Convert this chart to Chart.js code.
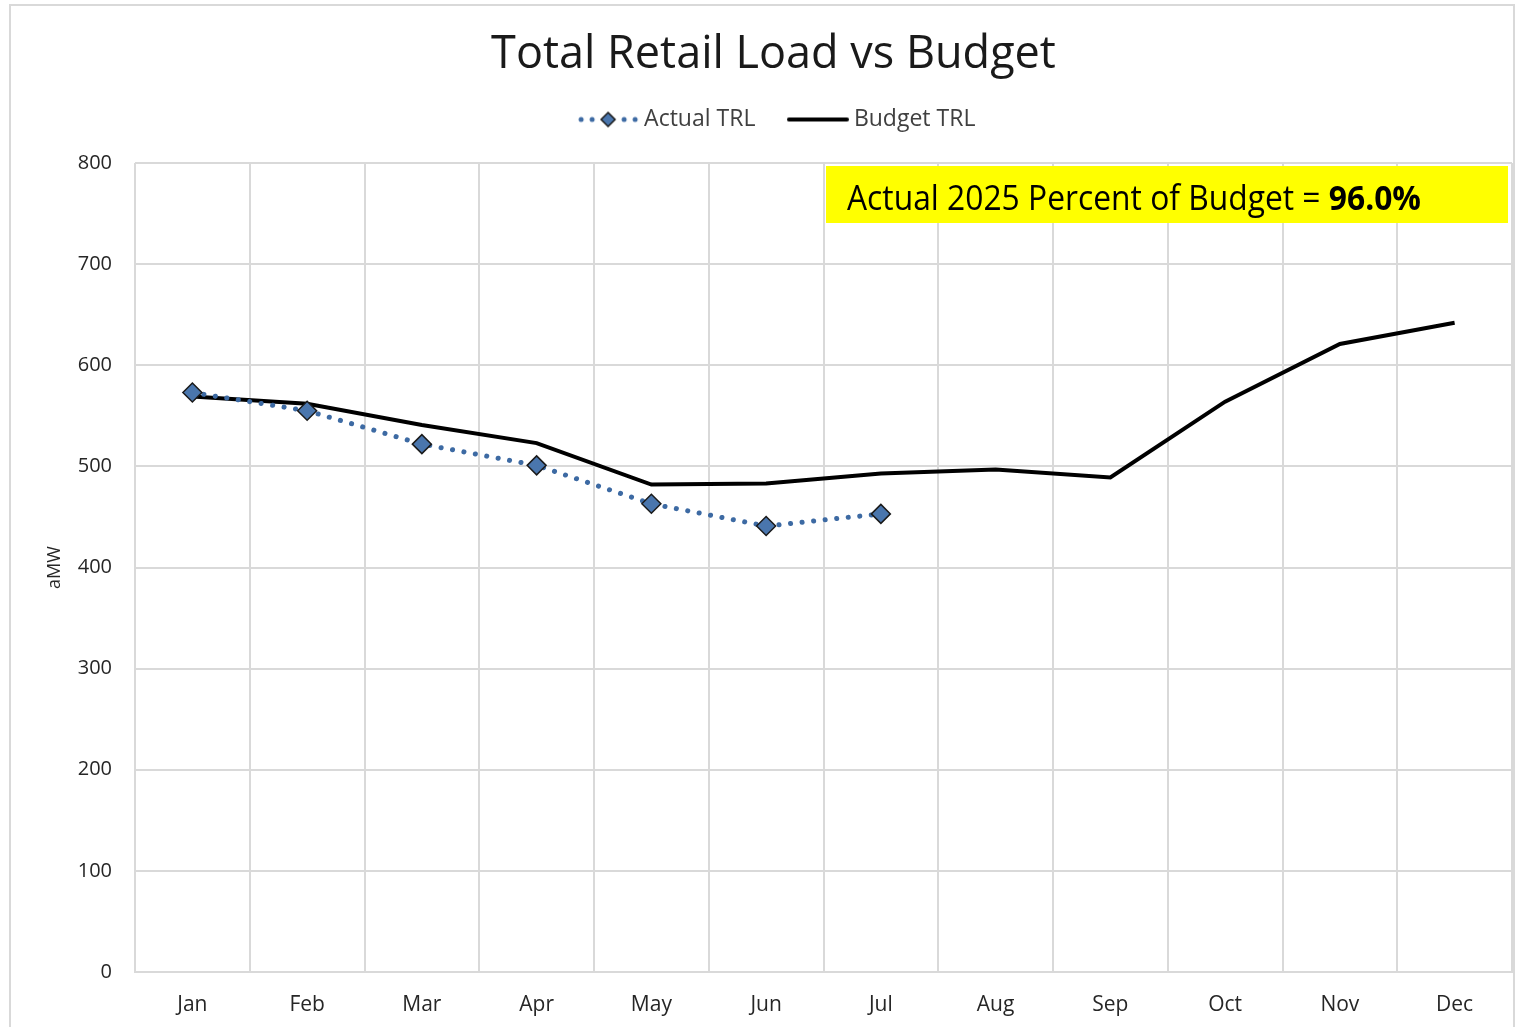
<!DOCTYPE html>
<html>
<head>
<meta charset="utf-8">
<script src="https://cdn.jsdelivr.net/npm/chart.js@4.4.1/dist/chart.umd.min.js"></script>
<style>
  html, body { margin: 0; padding: 0; background: #ffffff; }
  #wrap { width: 1516px; height: 1027px; position: relative; }
</style>
</head>
<body>
<div id="wrap"><canvas id="c" width="1516" height="1027"></canvas></div>
<script>
const categories = ['Jan','Feb','Mar','Apr','May','Jun','Jul','Aug','Sep','Oct','Nov','Dec'];
const actualTRL = [573, 555, 522, 501, 463, 441, 453, null, null, null, null, null];
const budgetTRL = [569, 562, 541, 523, 482, 483, 493, 497, 489, 564, 621, 642];
const yTicks = [0, 100, 200, 300, 400, 500, 600, 700, 800];
const chartTitle = 'Total Retail Load vs Budget';
const yAxisTitle = 'aMW';
const noteNormal = 'Actual 2025 Percent of Budget = ';
const noteBold = '96.0%';

const ACT_LINE = '#3d6aa3';
const ACT_FILL = '#4a76ad';

function legendImage(kind) {
  const c = document.createElement('canvas');
  c.width = 62; c.height = 22;
  const x = c.getContext('2d');
  x.lineCap = 'round';
  if (kind === 'actual') {
    x.fillStyle = ACT_LINE;
    [4, 15, 47, 58].forEach(px => { x.beginPath(); x.arc(px, 11, 2.5, 0, Math.PI*2); x.fill(); });
    x.beginPath();
    x.moveTo(31, 4); x.lineTo(38, 11); x.lineTo(31, 18); x.lineTo(24, 11); x.closePath();
    x.fillStyle = ACT_FILL; x.fill();
    x.lineWidth = 1.5; x.strokeStyle = '#1a1a1a'; x.stroke();
  } else {
    x.strokeStyle = '#000'; x.lineWidth = 4;
    x.beginPath(); x.moveTo(2, 11); x.lineTo(60, 11); x.stroke();
  }
  return c;
}
const legendImgs = [legendImage('actual'), legendImage('budget')];

const decorPlugin = {
  id: 'decor',
  afterInit(chart) {
    if (chart.legend && !chart.legend._wrapped) {
      const f = chart.legend.fit;
      chart.legend.fit = function () { f.call(this); this.height += 22; };
      chart.legend._wrapped = true;
    }
  },
  afterLayout(chart) {
    if (chart.legend) {
      chart.legend.left += 6;
      chart.legend.right += 6;
    }
  },
  beforeDraw(chart) {
    const ctx = chart.ctx;
    ctx.save();
    ctx.fillStyle = '#fff';
    ctx.fillRect(0, 0, chart.width, chart.height);
    ctx.strokeStyle = '#d9d9d9';
    ctx.lineWidth = 2;
    ctx.strokeRect(10, 5, 1504, 1040);
    ctx.restore();
  },
  afterDatasetsDraw(chart) {
    const ctx = chart.ctx;
    const a = chart.chartArea;
    const w = a.right - a.left;
    const bx = a.left + w * (691 / 1377);
    const bw = w * (682 / 1377);
    const by = a.top + 3;
    const bh = 57;
    ctx.save();
    ctx.fillStyle = '#ffff00';
    ctx.fillRect(bx, by, bw, bh);
    ctx.fillStyle = '#000';
    ctx.textBaseline = 'alphabetic';
    const f1 = '34px "Open Sans", sans-serif';
    const f2 = 'bold 34px "Open Sans", sans-serif';
    ctx.font = f1; const w1 = ctx.measureText(noteNormal).width;
    ctx.font = f2; const w2 = ctx.measureText(noteBold).width;
    const target = 574;
    const sx = target / (w1 + w2);
    ctx.translate(bx + 21, by + 44);
    ctx.scale(sx, 1);
    ctx.font = f1; ctx.fillText(noteNormal, 0, 0);
    ctx.font = f2; ctx.fillText(noteBold, w1, 0);
    ctx.restore();
  }
};

new Chart(document.getElementById('c'), {
  type: 'line',
  data: {
    labels: categories,
    datasets: [
      {
        label: 'Actual TRL',
        data: actualTRL,
        borderColor: ACT_LINE,
        backgroundColor: ACT_FILL,
        borderWidth: 5,
        borderDash: [0.1, 11.5],
        borderCapStyle: 'round',
        pointStyle: 'rectRot',
        pointRadius: 9.5,
        pointHoverRadius: 9.5,
        pointBackgroundColor: ACT_FILL,
        pointBorderColor: '#1a1a1a',
        pointBorderWidth: 1.5,
        tension: 0,
        spanGaps: false,
        order: 0
      },
      {
        label: 'Budget TRL',
        data: budgetTRL,
        borderColor: '#000000',
        backgroundColor: '#000000',
        borderWidth: 4,
        pointRadius: 0,
        pointHoverRadius: 0,
        tension: 0,
        order: 1
      }
    ]
  },
  options: {
    responsive: false,
    animation: false,
    devicePixelRatio: 1,
    layout: { autoPadding: false, padding: { left: 35, right: 4, top: 0, bottom: 0 } },
    plugins: {
      title: {
        display: true,
        text: chartTitle,
        color: '#1a1a1a',
        font: { family: '"Open Sans", sans-serif', size: 45, weight: 'normal', lineHeight: 1.2 },
        padding: { top: 28, bottom: -12 }
      },
      legend: {
        display: true,
        labels: {
          color: '#404040',
          font: { family: '"Open Sans", sans-serif', size: 23 },
          usePointStyle: true,
          pointStyleWidth: 49,
          boxHeight: 23,
          padding: 38,
          generateLabels(chart) {
            const items = Chart.defaults.plugins.legend.labels.generateLabels(chart);
            items.forEach((it, i) => { it.pointStyle = legendImgs[i]; });
            return items;
          }
        }
      },
      tooltip: { enabled: false }
    },
    scales: {
      x: {
        offset: true,
        grid: { offset: true, color: '#d9d9d9', lineWidth: 2, drawTicks: false },
        border: { color: '#d9d9d9', width: 2 },
        ticks: { color: '#262626', font: { family: '"Open Sans", sans-serif', size: 21 }, padding: 20, maxRotation: 0 },
        afterFit(s) { s.height = 55; s.paddingLeft = 0; s.paddingRight = 0; }
      },
      y: {
        min: 0, max: 800,
        afterBuildTicks(s) { s.ticks = yTicks.map(v => ({ value: v })); },
        grid: { color: '#d9d9d9', lineWidth: 2, drawTicks: false },
        border: { display: false },
        ticks: { color: '#262626', font: { family: '"Open Sans", sans-serif', size: 20 }, padding: 23 },
        title: { display: true, text: yAxisTitle, color: '#262626', font: { family: '"Open Sans", sans-serif', size: 18 }, padding: 9 },
        afterFit(s) { s.width = 100; }
      }
    }
  },
  plugins: [decorPlugin]
});
</script>
</body>
</html>
